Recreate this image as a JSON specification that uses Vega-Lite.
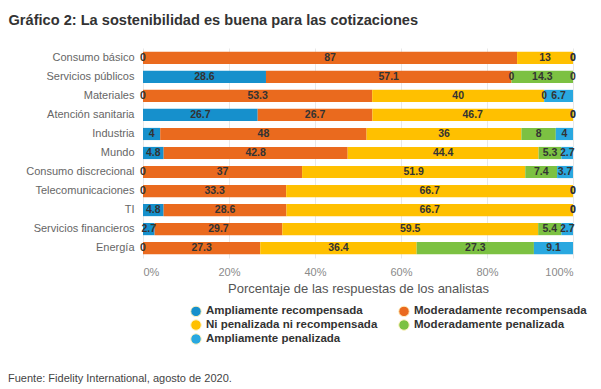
{
  "$schema": "https://vega.github.io/schema/vega-lite/v6.json",
  "width": 430,
  "height": 210,
  "padding": {"left": 8, "top": 12, "right": 14, "bottom": 4},
  "background": "white",
  "config": {"view": {"stroke": null}, "font": "Liberation Sans"},
  "title": {
    "text": "Fuente: Fidelity International, agosto de 2020.",
    "orient": "bottom",
    "anchor": "start",
    "frame": "bounds",
    "fontSize": 11,
    "fontWeight": "normal",
    "color": "#444",
    "font": "Liberation Sans",
    "offset": 26
  },
  "data": {
    "values": [
      {"sector": "Consumo básico", "Ampliamente recompensada": 0, "Moderadamente recompensada": 87, "Ni penalizada ni recompensada": 13, "Moderadamente penalizada": 0, "Ampliamente penalizada": 0},
      {"sector": "Servicios públicos", "Ampliamente recompensada": 28.6, "Moderadamente recompensada": 57.1, "Ni penalizada ni recompensada": 0, "Moderadamente penalizada": 14.3, "Ampliamente penalizada": 0},
      {"sector": "Materiales", "Ampliamente recompensada": 0, "Moderadamente recompensada": 53.3, "Ni penalizada ni recompensada": 40, "Moderadamente penalizada": 0, "Ampliamente penalizada": 6.7},
      {"sector": "Atención sanitaria", "Ampliamente recompensada": 26.7, "Moderadamente recompensada": 26.7, "Ni penalizada ni recompensada": 46.7, "Moderadamente penalizada": 0, "Ampliamente penalizada": 0},
      {"sector": "Industria", "Ampliamente recompensada": 4, "Moderadamente recompensada": 48, "Ni penalizada ni recompensada": 36, "Moderadamente penalizada": 8, "Ampliamente penalizada": 4},
      {"sector": "Mundo", "Ampliamente recompensada": 4.8, "Moderadamente recompensada": 42.8, "Ni penalizada ni recompensada": 44.4, "Moderadamente penalizada": 5.3, "Ampliamente penalizada": 2.7},
      {"sector": "Consumo discrecional", "Ampliamente recompensada": 0, "Moderadamente recompensada": 37, "Ni penalizada ni recompensada": 51.9, "Moderadamente penalizada": 7.4, "Ampliamente penalizada": 3.7},
      {"sector": "Telecomunicaciones", "Ampliamente recompensada": 0, "Moderadamente recompensada": 33.3, "Ni penalizada ni recompensada": 66.7, "Moderadamente penalizada": 0, "Ampliamente penalizada": 0},
      {"sector": "TI", "Ampliamente recompensada": 4.8, "Moderadamente recompensada": 28.6, "Ni penalizada ni recompensada": 66.7, "Moderadamente penalizada": 0, "Ampliamente penalizada": 0},
      {"sector": "Servicios financieros", "Ampliamente recompensada": 2.7, "Moderadamente recompensada": 29.7, "Ni penalizada ni recompensada": 59.5, "Moderadamente penalizada": 5.4, "Ampliamente penalizada": 2.7},
      {"sector": "Energía", "Ampliamente recompensada": 0, "Moderadamente recompensada": 27.3, "Ni penalizada ni recompensada": 36.4, "Moderadamente penalizada": 27.3, "Ampliamente penalizada": 9.1}
    ]
  },
  "transform": [
    {"fold": ["Ampliamente recompensada", "Moderadamente recompensada", "Ni penalizada ni recompensada", "Moderadamente penalizada", "Ampliamente penalizada"], "as": ["cat", "v"]},
    {"calculate": "indexof(['Ampliamente recompensada', 'Moderadamente recompensada', 'Ni penalizada ni recompensada', 'Moderadamente penalizada', 'Ampliamente penalizada'], datum.cat)", "as": "ord"},
    {"stack": "v", "groupby": ["sector"], "sort": [{"field": "ord", "order": "ascending"}], "offset": "normalize", "as": ["x0", "x1"]},
    {"calculate": "(datum.x0 + datum.x1) / 2", "as": "xm"}
  ],
  "encoding": {
    "y": {
      "field": "sector",
      "type": "nominal",
      "sort": ["Consumo básico", "Servicios públicos", "Materiales", "Atención sanitaria", "Industria", "Mundo", "Consumo discrecional", "Telecomunicaciones", "TI", "Servicios financieros", "Energía"],
      "scale": {"paddingInner": 0.36, "paddingOuter": 0.2},
      "axis": {
        "title": "Gráfico 2: La sostenibilidad es buena para las cotizaciones",
        "titleAngle": 0,
        "titleAlign": "left",
        "titleBaseline": "alphabetic",
        "titleX": -135,
        "titleY": -24,
        "titleFontSize": 14.6,
        "titleFontWeight": "bold",
        "titleColor": "#333333",
        "titleFont": "Liberation Sans",
        "labelFont": "Liberation Sans",
        "labelFontSize": 11,
        "labelColor": "#666666",
        "ticks": false,
        "domain": false,
        "labelPadding": 9
      }
    }
  },
  "layer": [
    {
      "mark": {"type": "bar"},
      "encoding": {
        "x": {
          "field": "x0",
          "type": "quantitative",
          "scale": {"domain": [0, 1], "nice": false},
          "axis": {
            "format": ".0%",
            "values": [0, 0.2, 0.4, 0.6, 0.8, 1],
            "title": "Porcentaje de las respuestas de los analistas",
            "titleFontSize": 13,
            "titleColor": "#555555",
            "titleFontWeight": "normal",
            "titleFont": "Liberation Sans",
            "labelFont": "Liberation Sans",
            "labelColor": "#8a8a8a",
            "labelFontSize": 11,
            "ticks": false,
            "domain": false,
            "grid": true,
            "gridColor": "#e8e8e8",
            "labelPadding": 8,
            "titlePadding": 5
          }
        },
        "x2": {"field": "x1"},
        "color": {
          "field": "cat",
          "type": "nominal",
          "scale": {
            "domain": ["Ampliamente recompensada", "Moderadamente recompensada", "Ni penalizada ni recompensada", "Moderadamente penalizada", "Ampliamente penalizada"],
            "range": ["#1690cc", "#ea6a1e", "#ffc000", "#7cc142", "#29a8e0"]
          },
          "legend": {
            "orient": "none",
            "direction": "horizontal",
            "legendX": 47,
            "legendY": 257,
            "columns": 2,
            "title": null,
            "symbolType": "circle",
            "symbolSize": 110,
            "symbolStrokeColor": "#fff2c0",
            "symbolStrokeWidth": 1,
            "labelFontSize": 11.5,
            "labelFontWeight": "bold",
            "labelColor": "#333333",
            "labelFont": "Liberation Sans",
            "labelLimit": 0,
            "rowPadding": -2,
            "columnPadding": 18
          }
        }
      }
    },
    {
      "mark": {"type": "text", "fontSize": 10.5, "fontWeight": "bold", "fill": "#333333"},
      "encoding": {
        "x": {"field": "xm", "type": "quantitative"},
        "text": {"field": "v", "type": "nominal"}
      }
    }
  ]
}
